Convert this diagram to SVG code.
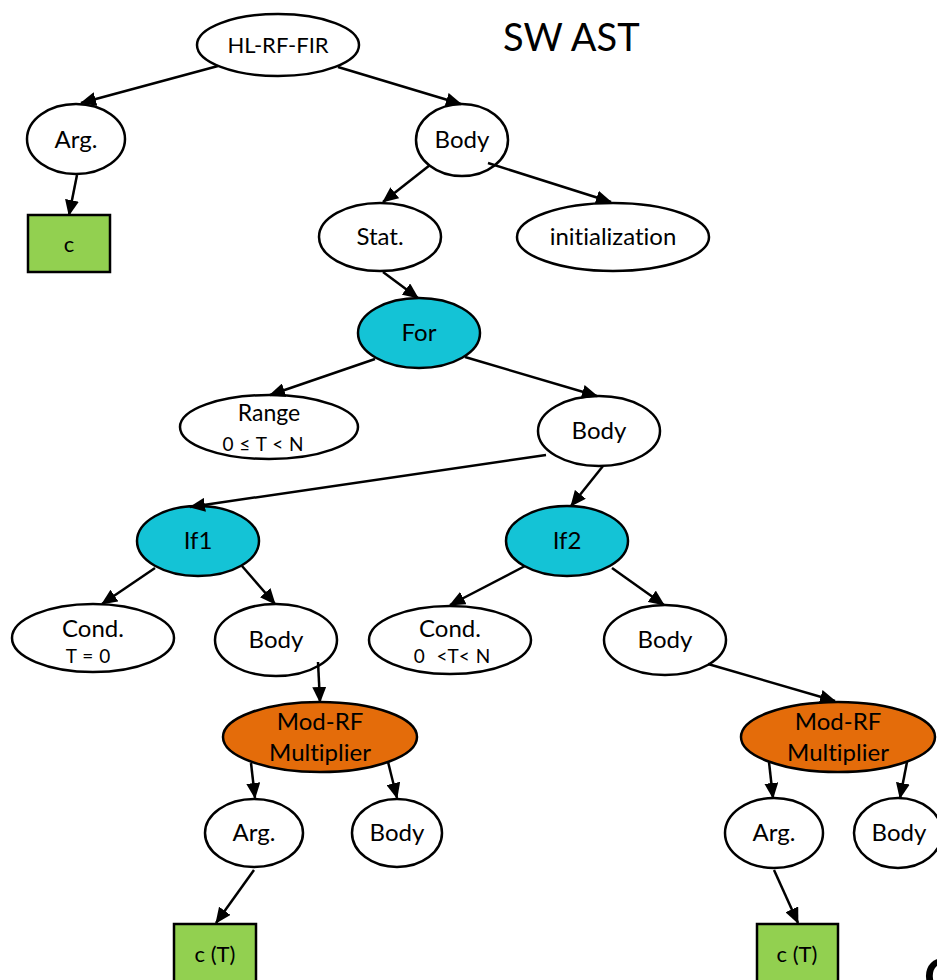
<svg xmlns="http://www.w3.org/2000/svg" width="937" height="980" viewBox="0 0 937 980">
  <style>
    .n { stroke: #000; stroke-width: 2.5; }
    .w { fill: #fff; }
    .g { fill: #92D050; }
    .b { fill: #14C3D6; }
    .o { fill: #E46C0A; }
    text { font-family: Lato, "Liberation Sans", sans-serif; fill: #000; text-anchor: middle; font-variant-ligatures: none; }
    .t { font-size: 24px; }
    .s { font-size: 19px; word-spacing: 1px; }
    .c { font-size: 22px; }
    .e line { stroke: #000; stroke-width: 2.5; marker-end: url(#arr); }
  </style>
  <defs>
    <marker id="arr" markerWidth="16" markerHeight="14" refX="15" refY="7" orient="auto" markerUnits="userSpaceOnUse">
      <path d="M0,0 L16,7 L0,14 z" fill="#000"/>
    </marker>
  </defs>
  <rect width="937" height="980" fill="#fff"/>

  <text x="503" y="51" style="font-size:38px;text-anchor:start">SW AST</text>

  <g id="n-root"><ellipse class="n w" cx="278" cy="45" rx="81" ry="31"/><text x="278" y="53" style="font-size:22px">HL-RF-FIR</text></g>
  <g id="n-arg0"><ellipse class="n w" cx="76" cy="139" rx="49" ry="35"/><text class="t" x="76" y="148">Arg.</text></g>
  <g id="n-c0"><rect class="n g" x="28" y="215" width="82" height="57"/><text class="c" x="69" y="252">c</text></g>
  <g id="n-body0"><ellipse class="n w" cx="462" cy="140" rx="46" ry="36"/><text class="t" x="462" y="148">Body</text></g>
  <g id="n-stat"><ellipse class="n w" cx="380" cy="237" rx="61" ry="34"/><text class="t" x="380" y="245">Stat.</text></g>
  <g id="n-init"><ellipse class="n w" cx="613" cy="237" rx="96" ry="34"/><text class="t" x="613" y="245">initialization</text></g>
  <g id="n-for"><ellipse class="n b" cx="419" cy="333" rx="61" ry="35"/><text class="t" x="419" y="341">For</text></g>
  <g id="n-range"><ellipse class="n w" cx="269" cy="427" rx="89" ry="32"/><text x="269" y="421" style="font-size:23px">Range</text><text class="s" x="263" y="451">0 ≤ T &lt; N</text></g>
  <g id="n-body1"><ellipse class="n w" cx="599" cy="431" rx="61" ry="35"/><text class="t" x="599" y="439">Body</text></g>
  <g id="n-if1"><ellipse class="n b" cx="198" cy="541" rx="61" ry="35"/><text class="t" x="198" y="549">If1</text></g>
  <g id="n-if2"><ellipse class="n b" cx="567" cy="541" rx="61" ry="35"/><text class="t" x="567" y="549">If2</text></g>
  <g id="n-cond1"><ellipse class="n w" cx="93" cy="638" rx="81" ry="34"/><text class="t" x="93" y="637">Cond.</text><text class="s" x="88" y="663">T = 0</text></g>
  <g id="n-body2"><ellipse class="n w" cx="276" cy="640" rx="61" ry="36"/><text class="t" x="276" y="648">Body</text></g>
  <g id="n-cond2"><ellipse class="n w" cx="450" cy="640" rx="81" ry="34"/><text class="t" x="450" y="637">Cond.</text><text class="s" x="452" y="663" xml:space="preserve">0  &lt;T&lt; N</text></g>
  <g id="n-body3"><ellipse class="n w" cx="665" cy="640" rx="61" ry="35"/><text class="t" x="665" y="648">Body</text></g>
  <g id="n-mod1"><ellipse class="n o" cx="320" cy="737" rx="97" ry="35"/><text class="t" x="320" y="730">Mod-RF</text><text class="t" x="320" y="761">Multiplier</text></g>
  <g id="n-mod2"><ellipse class="n o" cx="838" cy="737" rx="97" ry="35"/><text class="t" x="838" y="730">Mod-RF</text><text class="t" x="838" y="761">Multiplier</text></g>
  <g id="n-arg1"><ellipse class="n w" cx="254" cy="833" rx="49" ry="34"/><text class="t" x="254" y="841">Arg.</text></g>
  <g id="n-body4"><ellipse class="n w" cx="397" cy="833" rx="45" ry="34"/><text class="t" x="397" y="841">Body</text></g>
  <g id="n-c1"><rect class="n g" x="174" y="924" width="82" height="70"/><text class="c" x="215" y="962">c (T)</text></g>
  <g id="n-arg2"><ellipse class="n w" cx="774" cy="833" rx="49" ry="35"/><text class="t" x="774" y="841">Arg.</text></g>
  <g id="n-body5"><ellipse class="n w" cx="898" cy="833" rx="44" ry="35"/><text class="t" x="899" y="841">Body</text></g>
  <g id="n-c2"><rect class="n g" x="757" y="924" width="81" height="70"/><text class="c" x="797" y="962">c (T)</text></g>

  <text x="924" y="994" style="font-size:50px;font-weight:bold;text-anchor:start">C</text>

  <g id="edges" class="e">
    <line x1="218" y1="66" x2="81" y2="103"/>
    <line x1="338" y1="67" x2="461" y2="104"/>
    <line x1="77" y1="175" x2="69" y2="215"/>
    <line x1="430" y1="165" x2="383" y2="202"/>
    <line x1="488" y1="163" x2="611" y2="202"/>
    <line x1="383" y1="272" x2="418" y2="298"/>
    <line x1="375" y1="359" x2="270" y2="395"/>
    <line x1="465" y1="357" x2="597" y2="396"/>
    <line x1="546" y1="455" x2="190" y2="507"/>
    <line x1="603" y1="466" x2="571" y2="506"/>
    <line x1="155" y1="568" x2="102" y2="604"/>
    <line x1="242" y1="566" x2="275" y2="604"/>
    <line x1="525" y1="566" x2="450" y2="605"/>
    <line x1="612" y1="568" x2="664" y2="605"/>
    <line x1="318" y1="662" x2="320" y2="702"/>
    <line x1="708" y1="664" x2="835" y2="701"/>
    <line x1="251" y1="763" x2="255" y2="798"/>
    <line x1="388" y1="762" x2="397" y2="798"/>
    <line x1="254" y1="870" x2="216" y2="923"/>
    <line x1="769" y1="762" x2="773" y2="798"/>
    <line x1="907" y1="762" x2="900" y2="798"/>
    <line x1="774" y1="870" x2="798" y2="923"/>
  </g>
</svg>
